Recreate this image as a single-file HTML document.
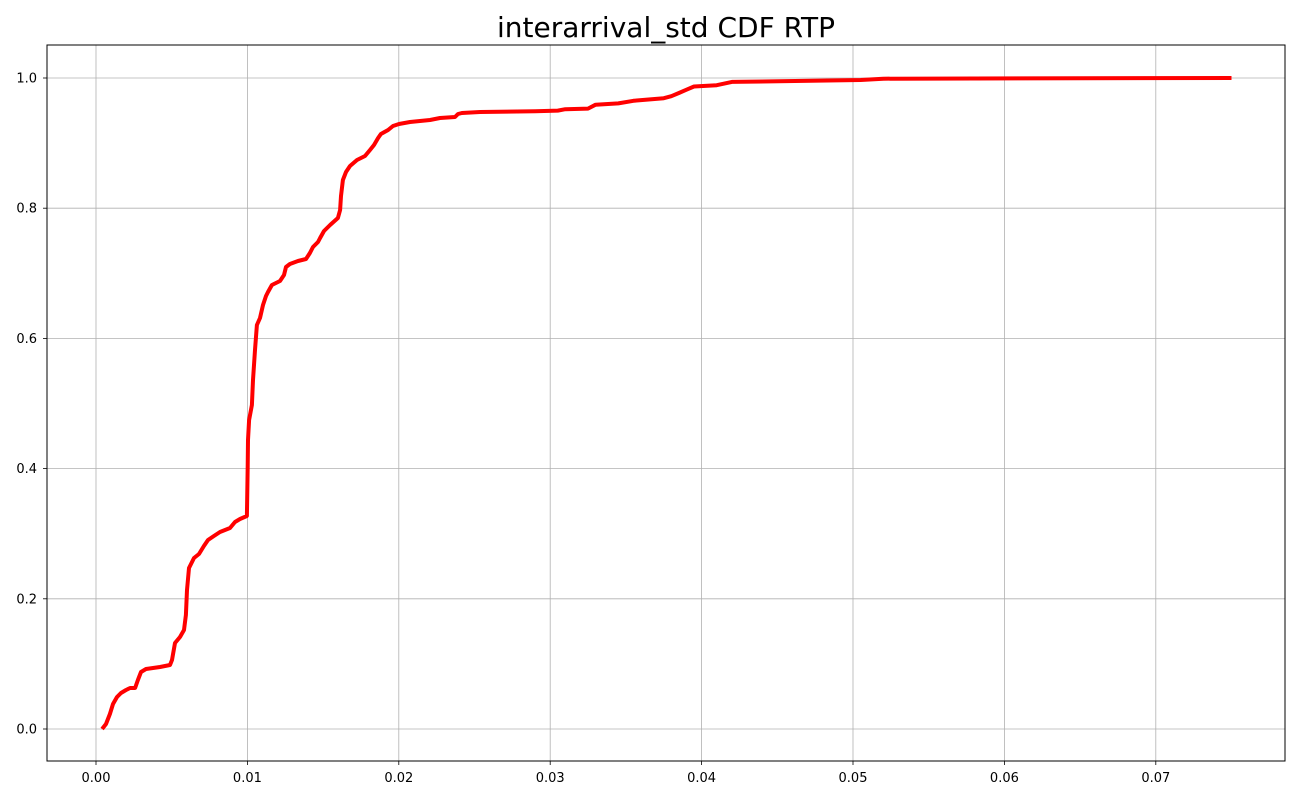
<!DOCTYPE html>
<html><head><meta charset="utf-8"><style>
html,body{margin:0;padding:0;background:#fff;width:1300px;height:800px;overflow:hidden}
svg text{font-family:"DejaVu Sans","Liberation Sans",sans-serif}
</style></head><body>
<svg id="chart" width="1300" height="800" xmlns="http://www.w3.org/2000/svg">
<text x="666" y="37" font-size="28" text-anchor="middle" fill="#000">interarrival_std CDF RTP</text>
<g id="grid"></g>
<g id="ticks"></g>
<path id="cdf" fill="none" stroke="#ff0000" stroke-width="4" stroke-linejoin="round" stroke-linecap="butt"/>
<rect x="47" y="45" width="1238" height="716" fill="none" stroke="#000" stroke-width="1"/>
</svg>
<script>
const xTicks=[0,0.01,0.02,0.03,0.04,0.05,0.06,0.07];
const xTickLabels=["0.00","0.01","0.02","0.03","0.04","0.05","0.06","0.07"];
const yTicks=[0,0.2,0.4,0.6,0.8,1.0];
const yTickLabels=["0.0","0.2","0.4","0.6","0.8","1.0"];
const xs=[0.0004,0.00066,0.00092,0.00112,0.00139,0.00165,0.00198,0.00225,0.00258,0.00277,0.00297,0.0033,0.00423,0.00489,0.00502,0.00522,0.00555,0.00581,0.00594,0.00601,0.00614,0.00647,0.0068,0.00713,0.0074,0.00779,0.00819,0.00885,0.00918,0.00951,0.00997,0.01002,0.01004,0.01011,0.0103,0.01037,0.0105,0.01063,0.01083,0.01103,0.01123,0.01136,0.01162,0.01215,0.01242,0.01255,0.01281,0.01334,0.01387,0.01413,0.01433,0.01466,0.0148,0.01506,0.01546,0.01598,0.01612,0.01618,0.01631,0.01651,0.01678,0.01724,0.01777,0.0181,0.01836,0.01863,0.01882,0.01929,0.01962,0.02001,0.02074,0.0214,0.02206,0.02272,0.02371,0.02391,0.02417,0.02536,0.029,0.0305,0.031,0.0325,0.033,0.0345,0.0355,0.0365,0.0375,0.038,0.0385,0.039,0.0395,0.041,0.042,0.0505,0.052,0.075];
const ys=[0,0.0077,0.023,0.0384,0.0492,0.0553,0.0599,0.063,0.063,0.0753,0.0876,0.0922,0.0952,0.0983,0.106,0.1321,0.1413,0.1521,0.1751,0.2135,0.2473,0.2627,0.2688,0.2811,0.2903,0.2965,0.3026,0.3088,0.318,0.3226,0.3272,0.404,0.4439,0.4747,0.4977,0.5361,0.5822,0.6206,0.6313,0.6513,0.6651,0.6713,0.682,0.6882,0.6974,0.7097,0.7143,0.7189,0.722,0.7312,0.7404,0.7481,0.7542,0.765,0.7742,0.7849,0.7972,0.8187,0.8433,0.8556,0.8648,0.874,0.8802,0.8894,0.8971,0.9078,0.914,0.9201,0.9263,0.9293,0.9324,0.934,0.9355,0.9386,0.9401,0.9447,0.9462,0.9478,0.949,0.95,0.952,0.953,0.959,0.961,0.965,0.967,0.969,0.972,0.977,0.982,0.987,0.989,0.994,0.997,0.999,1.0];
const X=v=>96+v*15140;
const Y=v=>729-v*651;
const NS="http://www.w3.org/2000/svg";
const grid=document.getElementById('grid'),ticks=document.getElementById('ticks');
function mk(tag,attrs,parent){const e=document.createElementNS(NS,tag);for(const k in attrs)e.setAttribute(k,attrs[k]);parent.appendChild(e);return e;}
xTicks.forEach((t,i)=>{
  const x=X(t);
  const g=mk('line',{x1:x,x2:x,y1:45,y2:761,stroke:'#b0b0b0','stroke-width':0.8},grid);
  
  
  const tk=mk('line',{x1:x,x2:x,y1:761,y2:765,stroke:'#000','stroke-width':0.8},ticks);
  
  
  const tx=mk('text',{x:x,y:782,'font-size':13,'text-anchor':'middle',fill:'#000'},ticks);
  tx.textContent=xTickLabels[i];
  
  
});
yTicks.forEach((t,i)=>{
  const y=Y(t);
  const g=mk('line',{x1:47,x2:1285,y1:y,y2:y,stroke:'#b0b0b0','stroke-width':0.8},grid);
  
  
  const tk=mk('line',{x1:43,x2:47,y1:y,y2:y,stroke:'#000','stroke-width':0.8},ticks);
  
  
  const tx=mk('text',{x:37,y:y+4.5,'font-size':13,'text-anchor':'end',fill:'#000'},ticks);
  tx.textContent=yTickLabels[i];
  
  
});
document.getElementById('cdf').setAttribute('d',xs.map((x,i)=>(i?'L':'M')+X(x).toFixed(1)+','+Y(ys[i]).toFixed(1)).join(' '));
</script>
</body></html>
